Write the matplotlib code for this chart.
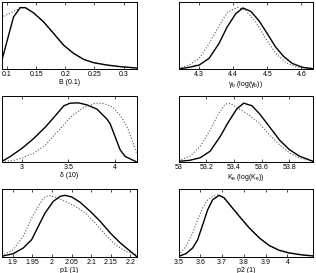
import matplotlib
matplotlib.use('Agg')
import matplotlib.pyplot as plt

plt.rcParams['font.family'] = ['Liberation Sans', 'DejaVu Sans']
plt.rcParams['mathtext.fontset'] = 'custom'
plt.rcParams['mathtext.rm'] = 'Liberation Sans'
plt.rcParams['mathtext.it'] = 'Liberation Sans'

# B (0.1)
b_x = [0.0914, 0.1113, 0.1228, 0.1314, 0.1457, 0.1629, 0.180, 0.197, 0.2142,
       0.2314, 0.2486, 0.2715, 0.2943, 0.3218]
b_solid = [0.134, 0.777, 0.916, 0.916, 0.837, 0.703, 0.530, 0.356, 0.233,
           0.144, 0.094, 0.059, 0.035, 0.015]
b_dx = [0.0942, 0.1057, 0.117, 0.1228, 0.1314, 0.1457, 0.1629, 0.180, 0.197,
        0.2142, 0.2314, 0.2486, 0.2715, 0.2943, 0.3218]
b_dot = [0.787, 0.837, 0.886, 0.916, 0.916, 0.837, 0.703, 0.530, 0.356,
         0.233, 0.144, 0.094, 0.059, 0.035, 0.015]

# gamma_b
g_x = [4.2394, 4.27, 4.3, 4.329, 4.358, 4.382, 4.407, 4.428, 4.451, 4.475,
       4.5, 4.524, 4.549, 4.573, 4.603, 4.634]
g_solid = [0.0, 0.025, 0.059, 0.158, 0.379, 0.626, 0.823, 0.911, 0.862,
           0.724, 0.527, 0.330, 0.182, 0.084, 0.025, 0.005]
g_dx = [4.2394, 4.2707, 4.3, 4.3293, 4.3587, 4.3831, 4.4124, 4.4369, 4.4662,
        4.4955, 4.5248, 4.5542, 4.5835, 4.6343]
g_dot = [0.010, 0.059, 0.158, 0.379, 0.650, 0.847, 0.921, 0.872, 0.700,
         0.453, 0.232, 0.094, 0.034, 0.005]

# delta (10)
d_x = [2.784, 2.874, 3.0, 3.126, 3.252, 3.36, 3.45, 3.518, 3.608, 3.698,
       3.806, 3.914, 3.95, 4.004, 4.058, 4.112, 4.184, 4.23]
d_solid = [0.01, 0.084, 0.208, 0.356, 0.530, 0.703, 0.851, 0.891, 0.896,
           0.866, 0.802, 0.653, 0.579, 0.381, 0.183, 0.084, 0.035, 0.005]
d_dx = [2.784, 2.910, 3.0, 3.126, 3.252, 3.396, 3.522, 3.665, 3.791, 3.881,
        3.971, 4.061, 4.133, 4.187, 4.234]
d_dot = [0.005, 0.025, 0.059, 0.134, 0.257, 0.480, 0.678, 0.827, 0.891,
         0.886, 0.837, 0.703, 0.530, 0.332, 0.134]

# K_e
k_x = [53.0, 53.08, 53.156, 53.228, 53.3, 53.36, 53.42, 53.47, 53.53, 53.585,
       53.657, 53.728, 53.8, 53.872, 53.97]
k_solid = [0.01, 0.025, 0.064, 0.163, 0.384, 0.606, 0.803, 0.892, 0.852,
           0.729, 0.532, 0.335, 0.187, 0.089, 0.01]
k_dx = [53.0, 53.084, 53.156, 53.228, 53.288, 53.336, 53.372, 53.44, 53.514,
        53.585, 53.657, 53.728, 53.8, 53.872, 53.97]
k_dot = [0.02, 0.089, 0.236, 0.483, 0.729, 0.877, 0.887, 0.803, 0.704,
         0.581, 0.409, 0.261, 0.138, 0.064, 0.01]

# p1 (1)
p1_x = [1.872, 1.9016, 1.927, 1.9486, 1.9655, 1.9826, 2.0038, 2.021, 2.0338,
        2.051, 2.072, 2.0977, 2.123, 2.1488, 2.1744, 2.2, 2.2153]
p1_solid = [0.01, 0.049, 0.132, 0.255, 0.451, 0.647, 0.819, 0.892, 0.907,
            0.882, 0.804, 0.672, 0.525, 0.353, 0.206, 0.083, 0.01]
p1_dx = [1.872, 1.9016, 1.927, 1.9486, 1.9655, 1.978, 1.991, 2.008, 2.0338,
         2.0594, 2.085, 2.1105, 2.136, 2.1616, 2.1872, 2.2153]
p1_dot = [0.02, 0.108, 0.304, 0.574, 0.745, 0.858, 0.907, 0.882, 0.819,
          0.745, 0.647, 0.5, 0.328, 0.181, 0.083, 0.034]

# p2 (1)
p2_x = [3.501, 3.534, 3.565, 3.588, 3.611, 3.634, 3.657, 3.687, 3.71, 3.741,
        3.779, 3.825, 3.871, 3.917, 3.962, 4.008, 4.07, 4.118]
p2_solid = [0.01, 0.049, 0.132, 0.255, 0.475, 0.696, 0.843, 0.907, 0.868,
            0.745, 0.598, 0.426, 0.279, 0.167, 0.098, 0.059, 0.029, 0.015]
p2_dx = [3.501, 3.534, 3.565, 3.588, 3.611, 3.634, 3.657, 3.68, 3.703, 3.741,
         3.779, 3.825, 3.871, 3.917, 3.962, 4.008, 4.07, 4.118]
p2_dot = [0.025, 0.157, 0.353, 0.549, 0.721, 0.843, 0.892, 0.912, 0.882,
          0.750, 0.603, 0.431, 0.284, 0.172, 0.103, 0.064, 0.034, 0.02]

panels = [
    (b_x, b_solid, b_dx, b_dot, (0.0915, 0.322), [0.1, 0.15, 0.2, 0.25, 0.3],
     ['0.1', '0.15', '0.2', '0.25', '0.3'], 'B (0.1)'),
    (g_x, g_solid, g_dx, g_dot, (4.2394, 4.634), [4.3, 4.4, 4.5, 4.6],
     ['4.3', '4.4', '4.5', '4.6'], r'$\gamma_b$ (log($\gamma_b$))'),
    (d_x, d_solid, d_dx, d_dot, (2.784, 4.234), [3, 3.5, 4],
     ['3', '3.5', '4'], '\u03b4 (10)'),
    (k_x, k_solid, k_dx, k_dot, (53.0, 53.97), [53, 53.2, 53.4, 53.6, 53.8],
     ['53', '53.2', '53.4', '53.6', '53.8'], r'$K_e$ (log($K_e$))'),
    (p1_x, p1_solid, p1_dx, p1_dot, (1.873, 2.2155),
     [1.9, 1.95, 2, 2.05, 2.1, 2.15, 2.2],
     ['1.9', '1.95', '2', '2.05', '2.1', '2.15', '2.2'], 'p1 (1)'),
    (p2_x, p2_solid, p2_dx, p2_dot, (3.5, 4.117), [3.5, 3.6, 3.7, 3.8, 3.9, 4],
     ['3.5', '3.6', '3.7', '3.8', '3.9', '4'], 'p2 (1)'),
]

W, H = 316.0, 273.0
lefts = [2, 178.5]
rows = [(2, 69), (96, 162), (189, 257)]

fig = plt.figure(figsize=(3.16, 2.73), dpi=100)
for i, (x, ys, dx, yd, xl, ticks, labels, name) in enumerate(panels):
    r, c = divmod(i, 2)
    x0 = lefts[c]
    top, bot = rows[r]
    ax = fig.add_axes([x0 / W, 1 - bot / H, 134.5 / W, (bot - top) / H])
    ax.plot(dx, yd, ':', color='0.35', lw=0.8)
    ax.plot(x, ys, '-', color='k', lw=1.0)
    ax.set_xlim(xl)
    ax.set_ylim(0, 1)
    ax.set_yticks([])
    ax.set_xticks(ticks)
    ax.set_xticklabels(labels)
    ax.tick_params(axis='x', direction='in', length=2, width=0.5,
                   top=True, labelsize=5, pad=1.5)
    ax.set_xlabel(name, fontsize=5, labelpad=0.5)
    for s in ax.spines.values():
        s.set_linewidth(0.7)

fig.savefig('out.png', dpi=100)
